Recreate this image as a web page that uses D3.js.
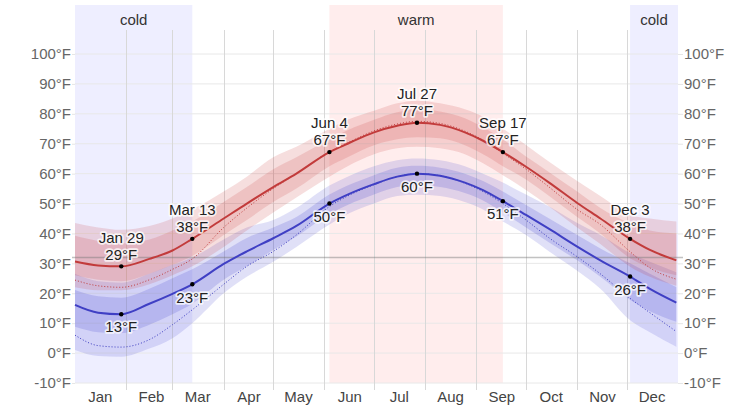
<!DOCTYPE html>
<html><head><meta charset="utf-8">
<script src="https://cdn.jsdelivr.net/npm/d3@7"></script>
<style>
body{margin:0;background:#fff}
svg{display:block;font-family:"Liberation Sans",Arial,sans-serif}
</style>
</head><body>
<svg id="c" width="753" height="407"></svg>
<script>
// ---- data ----
const dates = ["2023-01-01","2023-01-15","2023-01-29","2023-02-15","2023-03-01","2023-03-13","2023-04-01","2023-04-15","2023-05-01","2023-05-15","2023-06-04","2023-06-15","2023-07-01","2023-07-15","2023-07-27","2023-08-10","2023-08-25","2023-09-05","2023-09-17","2023-10-01","2023-10-15","2023-11-01","2023-11-15","2023-12-03","2023-12-15","2023-12-31"];
const high50 = [30.6,29.3,29.0,31.5,34.3,38.2,45.0,50.0,55.5,60.0,67.2,70.0,73.8,76.0,77.0,76.3,73.8,71.0,67.2,62.3,57.0,50.2,45.0,38.2,34.5,31.0];
const high75 = [39.2,37.5,36.7,38.0,41.0,44.0,50.5,55.5,61.5,65.5,71.5,74.5,78.0,80.5,81.5,80.8,78.5,75.5,71.5,65.7,60.5,54.0,48.5,43.4,41.0,40.0];
const high90 = [43.5,42.0,41.2,42.5,45.0,48.0,54.0,59.0,65.5,69.0,75.0,78.0,81.0,83.5,84.4,83.5,81.5,79.0,75.0,69.6,64.0,57.5,52.5,46.2,45.0,44.0];
const high25 = [26.0,24.5,24.0,26.5,29.5,32.5,39.5,44.5,50.5,55.0,62.5,65.5,69.5,71.5,72.2,71.8,69.5,66.5,62.5,58.0,52.5,45.5,40.0,31.7,28.5,26.0];
const high10 = [22.0,21.0,21.0,23.0,26.0,29.0,35.5,41.0,47.0,52.0,59.0,62.5,66.5,68.5,69.0,68.5,66.5,63.5,59.5,54.5,49.0,42.0,36.5,28.9,25.5,22.5];
const highFeels = [24.4,22.5,22.0,24.5,28.0,31.5,42.0,48.5,55.0,60.0,67.3,70.3,74.3,76.6,77.5,76.8,74.2,71.2,66.8,61.5,55.5,48.0,43.0,33.9,28.5,24.7];
const low50 = [16.1,13.5,13.0,16.5,19.8,23.0,29.8,34.0,38.4,42.5,50.0,53.0,56.5,59.0,60.0,59.3,57.0,54.5,50.8,46.2,41.5,35.6,31.0,25.6,21.5,16.9];
const low75 = [21.1,19.0,18.5,21.5,25.0,28.0,34.0,38.5,42.0,45.5,53.0,56.0,59.5,62.0,62.6,62.0,60.0,57.5,54.0,49.5,45.0,39.5,35.0,30.0,26.5,22.0];
const low90 = [26.5,24.0,23.5,26.5,29.5,32.0,38.0,42.0,44.5,48.5,56.0,59.0,62.5,64.5,65.1,64.5,62.5,60.0,57.0,53.0,49.0,43.5,39.5,33.4,30.5,27.0];
const low25 = [8.8,7.0,6.7,9.5,13.0,16.5,24.5,29.0,34.5,39.0,46.5,49.5,53.0,55.5,56.2,55.5,53.5,51.0,47.0,42.0,37.0,31.0,25.5,17.8,14.0,10.5];
const low10 = [1.0,-1.0,-1.2,1.5,5.0,10.0,20.0,25.5,30.5,35.5,43.0,46.5,50.0,52.5,52.9,52.5,50.5,48.0,44.0,39.5,34.0,27.5,21.5,11.0,7.0,2.1];
const lowFeels = [6.0,2.5,2.0,4.5,9.5,14.5,23.0,29.0,34.0,39.5,49.0,52.5,56.3,59.0,60.0,59.3,56.8,54.0,50.0,44.5,38.5,32.2,26.5,18.3,13.5,7.2];

const annIndex = [2,5,10,14,18,23];
const annLabels = ["Jan 29","Mar 13","Jun 4","Jul 27","Sep 17","Dec 3"];

const seasonLabels = ["cold","warm","cold"];
const seasonStart = ["2023-01-01","2023-06-04","2023-12-03"];
const seasonEnd = ["2023-03-13","2023-09-17","2024-01-01"];
const seasonType = ["cold","warm","cold"];

const monthLabels = ["Jan","Feb","Mar","Apr","May","Jun","Jul","Aug","Sep","Oct","Nov","Dec"];
const yTicks = [-10,0,10,20,30,40,50,60,70,80,90,100];

// ---- setup ----
const L = 75, R = 678, T = 54, B = 383;
const FS = 15;
const parse = d3.timeParse("%Y-%m-%d");
const dts = dates.map(parse);
const x = d3.scaleTime().domain([parse("2023-01-01"), parse("2024-01-01")]).range([L, R]);
const y = d3.scaleLinear().domain([-10, 100]).range([B, T]);
const svg = d3.select("#c");

// season backgrounds
const seasonColor = {cold:"#eeeeff", warm:"#ffeded"};
seasonLabels.forEach((lab, i) => {
  const x0 = x(parse(seasonStart[i])), x1 = x(parse(seasonEnd[i]));
  svg.append("rect").attr("x", x0).attr("y", 5).attr("width", x1 - x0).attr("height", B - 5)
    .attr("fill", seasonColor[seasonType[i]]);
  svg.append("text").attr("x", (x0 + x1) / 2).attr("y", 20).attr("dy", "0.35em")
    .attr("text-anchor", "middle").attr("font-size", FS).attr("fill", "#333").text(lab);
});

// y axes (labels + ticks)
const yl = svg.append("g").attr("transform", `translate(${L},0)`)
  .call(d3.axisLeft(y).tickValues(yTicks).tickSize(3).tickPadding(1).tickFormat(d => d + "°F"));
const yr = svg.append("g").attr("transform", `translate(${R},0)`)
  .call(d3.axisRight(y).tickValues(yTicks).tickSize(5).tickPadding(1).tickFormat(d => d + "°F"));
[yl, yr].forEach(g => {
  g.select(".domain").remove();
  g.selectAll("line").attr("stroke", "#e6e6e6");
  g.selectAll("text").attr("fill", "#666").attr("font-size", FS).attr("font-family", null);
});
// horizontal grid
svg.append("g").selectAll("line").data(yTicks).join("line")
  .attr("x1", L).attr("x2", R).attr("y1", d => y(d)).attr("y2", d => y(d))
  .attr("stroke", "#e8e8e8").attr("stroke-width", 1);

// vertical month grid
const monthStarts = d3.timeMonth.range(parse("2023-02-01"), parse("2023-12-02"));
svg.append("g").selectAll("line").data(monthStarts).join("line")
  .attr("x1", d => Math.round(x(d)) + 0.5).attr("x2", d => Math.round(x(d)) + 0.5)
  .attr("y1", 30).attr("y2", 390)
  .attr("stroke", "#d8d8d8").attr("stroke-width", 1);

// month labels via bottom axis
const monthMids = d3.timeMonth.range(parse("2023-01-01"), parse("2024-01-01")).map(d => new Date(d.getFullYear(), d.getMonth(), 16));
const xa = svg.append("g").attr("transform", `translate(0,${B})`)
  .call(d3.axisBottom(x).tickValues(monthMids).tickSize(0).tickPadding(8).tickFormat((d, i) => monthLabels[i]));
xa.select(".domain").remove();
xa.selectAll("text").attr("fill", "#444").attr("font-size", FS).attr("font-family", null);

// bands
const area = (lo, hi) => d3.area().curve(d3.curveMonotoneX)
  .x((d, i) => x(dts[i])).y0((d, i) => y(lo[i])).y1((d, i) => y(hi[i]))(dates);
const line = v => d3.line().curve(d3.curveMonotoneX).x((d, i) => x(dts[i])).y((d, i) => y(v[i]))(dates);

svg.append("path").attr("d", area(low10, low90)).attr("fill", "rgba(70,70,210,0.17)");
svg.append("path").attr("d", area(low25, low75)).attr("fill", "rgba(70,70,210,0.2)");
svg.append("path").attr("d", area(high10, high90)).attr("fill", "rgba(200,50,50,0.16)");
svg.append("path").attr("d", area(high25, high75)).attr("fill", "rgba(200,50,50,0.16)");

// freezing line
svg.append("line").attr("x1", L - 3).attr("x2", R + 5).attr("y1", y(32)).attr("y2", y(32))
  .attr("stroke", "rgba(120,120,120,0.45)").attr("stroke-width", 1.5);

// feels-like dotted lines
svg.append("path").attr("d", line(highFeels)).attr("fill", "none")
  .attr("stroke", "#c03a3a").attr("stroke-width", 1).attr("stroke-dasharray", "1,2");
svg.append("path").attr("d", line(lowFeels)).attr("fill", "none")
  .attr("stroke", "#3a3ac0").attr("stroke-width", 1).attr("stroke-dasharray", "1,2");

// main lines
svg.append("path").attr("d", line(high50)).attr("fill", "none").attr("stroke", "#c23b3b").attr("stroke-width", 2);
svg.append("path").attr("d", line(low50)).attr("fill", "none").attr("stroke", "#3f3fc4").attr("stroke-width", 2);

// annotations
const ann = svg.append("g");
const halo = sel => sel.attr("stroke", "rgba(255,255,255,0.75)").attr("stroke-width", 3.5)
  .attr("paint-order", "stroke").attr("stroke-linejoin", "round");
annIndex.forEach((idx, k) => {
  const cx = x(dts[idx]);
  const hy = y(high50[idx]), ly = y(low50[idx]);
  ann.append("circle").attr("cx", cx).attr("cy", hy).attr("r", 2.2).attr("fill", "#000");
  ann.append("circle").attr("cx", cx).attr("cy", ly).attr("r", 2.2).attr("fill", "#000");
  ann.append("text").attr("x", cx).attr("y", hy - 29).attr("dy", "0.35em").attr("text-anchor", "middle")
    .attr("font-size", FS).attr("fill", "#222").text(annLabels[k]).call(halo);
  ann.append("text").attr("x", cx).attr("y", hy - 12).attr("dy", "0.35em").attr("text-anchor", "middle")
    .attr("font-size", FS).attr("fill", "#222").text(Math.round(high50[idx]) + "°F").call(halo);
  ann.append("text").attr("x", cx).attr("y", ly + 13).attr("dy", "0.35em").attr("text-anchor", "middle")
    .attr("font-size", FS).attr("fill", "#222").text(Math.round(low50[idx]) + "°F").call(halo);
});
</script>
</body></html>
